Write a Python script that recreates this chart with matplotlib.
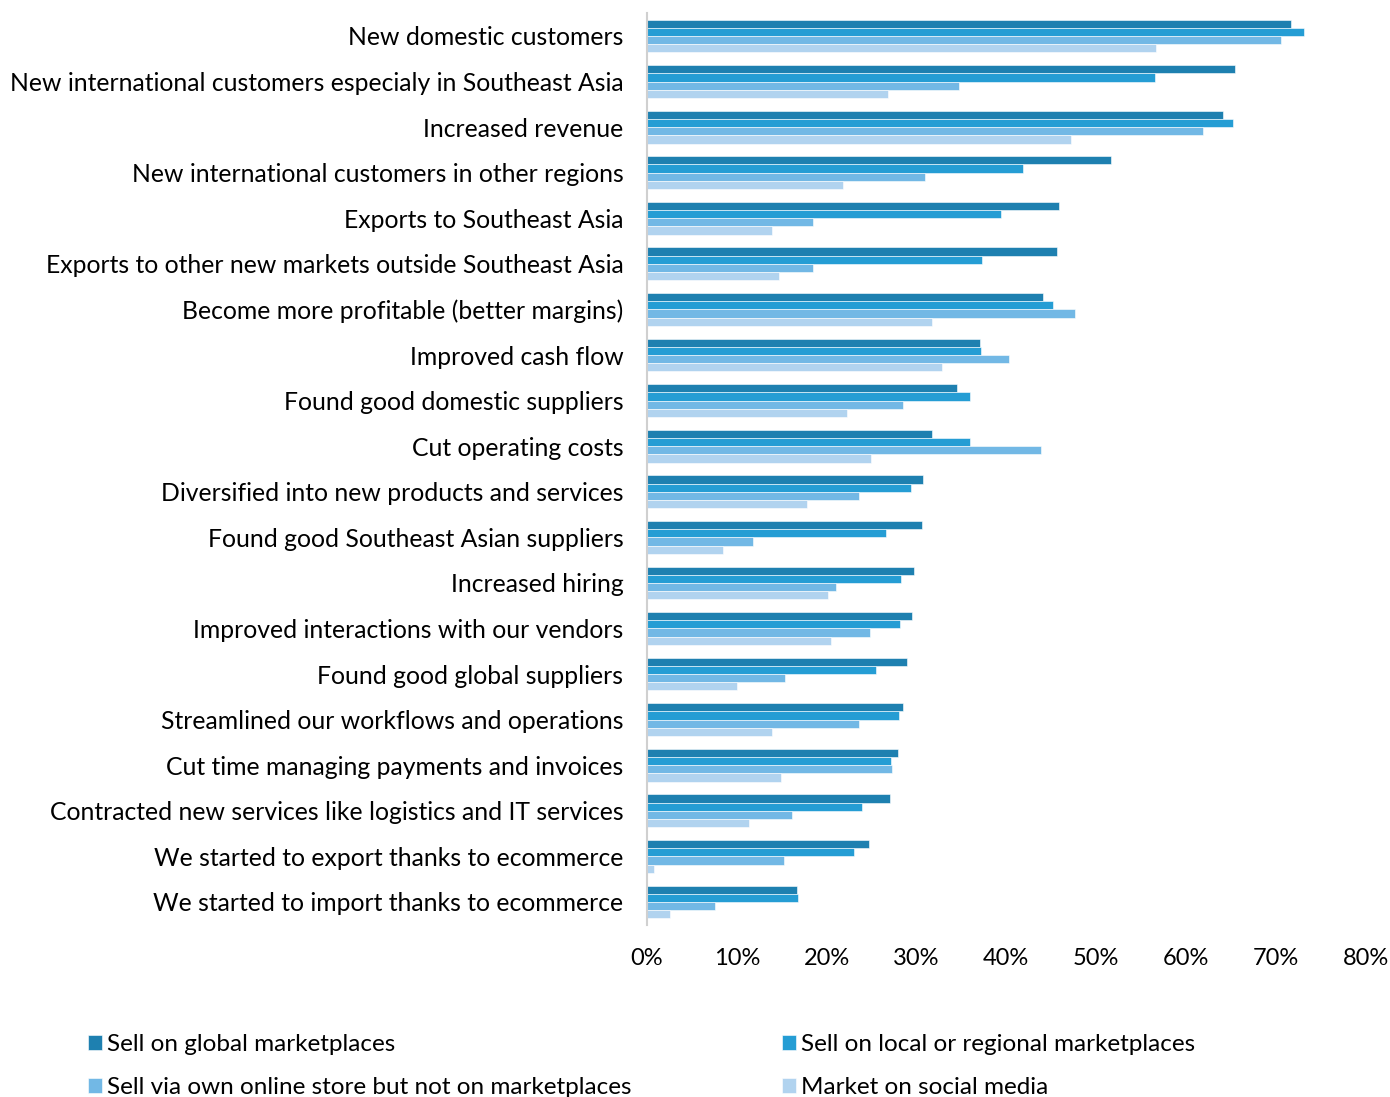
import numpy as np
import matplotlib.pyplot as plt
from matplotlib.ticker import PercentFormatter

plt.rcParams['font.family'] = ['Lato', 'DejaVu Sans']

categories = [
    "New domestic customers",
    "New international customers especialy in Southeast Asia",
    "Increased revenue",
    "New international customers in other regions",
    "Exports to Southeast Asia",
    "Exports to other new markets outside Southeast Asia",
    "Become more profitable (better margins)",
    "Improved cash flow",
    "Found good domestic suppliers",
    "Cut operating costs",
    "Diversified into new products and services",
    "Found good Southeast Asian suppliers",
    "Increased hiring",
    "Improved interactions with our vendors",
    "Found good global suppliers",
    "Streamlined our workflows and operations",
    "Cut time managing payments and invoices",
    "Contracted new services like logistics and IT services",
    "We started to export thanks to ecommerce",
    "We started to import thanks to ecommerce",
]

series_names = [
    "Sell on global marketplaces",
    "Sell on local or regional marketplaces",
    "Sell via own online store but not on marketplaces",
    "Market on social media",
]

global_mp = [71.7, 65.4, 64.1, 51.7, 45.9, 45.6, 44.1, 37.1, 34.5, 31.7,
             30.7, 30.6, 29.7, 29.5, 28.9, 28.5, 27.9, 27.1, 24.7, 16.7]
local_mp = [73.1, 56.5, 65.2, 41.8, 39.4, 37.3, 45.2, 37.2, 35.9, 36.0,
            29.4, 26.6, 28.3, 28.2, 25.5, 28.0, 27.2, 23.9, 23.0, 16.8]
own_store = [70.6, 34.7, 61.9, 30.9, 18.5, 18.5, 47.6, 40.3, 28.5, 43.9,
             23.6, 11.8, 21.0, 24.8, 15.4, 23.6, 27.3, 16.1, 15.3, 7.6]
social = [56.7, 26.8, 47.2, 21.8, 13.9, 14.7, 31.7, 32.8, 22.3, 24.9,
          17.8, 8.4, 20.2, 20.5, 10.0, 13.9, 14.9, 11.3, 0.8, 2.6]

colors = ["#1e80b0", "#259dd4", "#72b8e5", "#b1d3ef"]

fig = plt.figure(figsize=(13.9, 10.97), dpi=100)
ax = fig.add_axes([0.4655, 0.157, 0.517, 0.831])

y = np.arange(len(categories))
bar_h = 0.18
bars = []
for i, (vals, name, c) in enumerate(zip([global_mp, local_mp, own_store, social],
                                         series_names, colors)):
    b = ax.barh(y + (i - 1.5) * bar_h, vals, height=bar_h, color=c,
                edgecolor='white', linewidth=0.4, label=name)
    bars.append(b)

ax.set_ylim(len(categories) - 0.5, -0.5)
ax.set_xlim(0, 80)
ax.set_xticks(np.arange(0, 81, 10))
ax.xaxis.set_major_formatter(PercentFormatter(decimals=0))
ax.set_yticks(y)
ax.set_yticklabels(categories)

for side in ['top', 'right', 'bottom']:
    ax.spines[side].set_visible(False)
ax.spines['left'].set_color('#d0d0d0')
ax.spines['left'].set_linewidth(1.5)
ax.tick_params(axis='y', length=0, pad=17, labelsize=17.8)
ax.tick_params(axis='x', length=0, pad=17, labelsize=17)

# legend reads row by row: global / local, then own store / social
order = [0, 2, 1, 3]
fig.legend([bars[k] for k in order], [series_names[k] for k in order],
           loc='upper left', bbox_to_anchor=(0.056, 0.0665), ncol=2,
           frameon=False, fontsize=17.5, handlelength=0.58, handleheight=0.58,
           handletextpad=0.2, columnspacing=6.2, labelspacing=0.9,
           borderaxespad=0)

fig.savefig("out.png", dpi=100)
